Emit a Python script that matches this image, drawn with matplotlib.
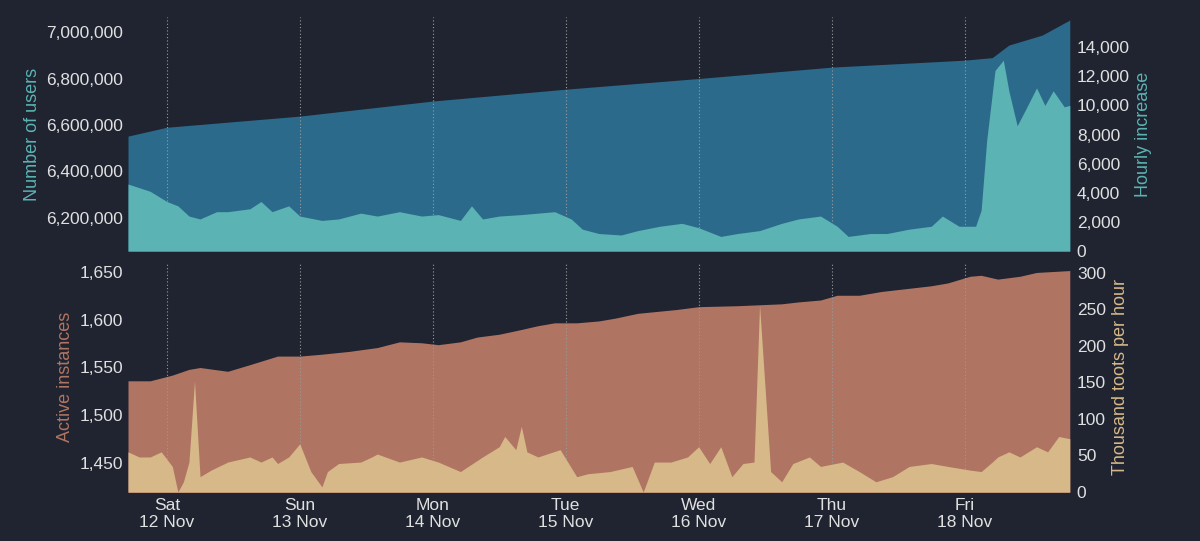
import numpy as np
import pandas as pd
import matplotlib.pyplot as plt
import matplotlib.dates as mdates
from matplotlib.ticker import FuncFormatter

start = pd.Timestamp("2022-11-11 17:00")

# users (total), hours since start
users_h = [0, 7, 31, 55, 79, 103, 127, 151, 156, 159, 165, 170]
users_v = [6552000, 6590000, 6638000, 6703000, 6754000, 6800000, 6849000, 6879000,
           6890000, 6944000, 6987000, 7052000]

# hourly increase
inc_h = [0, 4, 7, 9, 11, 13, 16, 18, 22, 24, 26, 29, 31, 35, 38, 42, 45, 49, 53, 56,
         60, 62, 64, 67, 71, 74, 77, 80, 82, 85, 89, 92, 96, 100, 103, 107, 110, 114,
         118, 121, 125, 128, 130, 134, 137, 141, 145, 147, 150, 153, 154, 155, 156.5,
         158, 159, 160.5, 162, 164, 165.5, 167, 169, 170]
inc_v = [4600, 4100, 3400, 3100, 2400, 2200, 2700, 2700, 2900, 3400, 2700, 3100, 2400,
         2100, 2200, 2600, 2400, 2700, 2400, 2500, 2100, 3100, 2200, 2400, 2500, 2600,
         2700, 2200, 1500, 1200, 1100, 1400, 1700, 1900, 1600, 1000, 1200, 1400, 1900,
         2200, 2400, 1700, 1000, 1200, 1200, 1500, 1700, 2400, 1700, 1700, 2800, 7600,
         12400, 13100, 11000, 8600, 9700, 11200, 10000, 11000, 9900, 10000]

# active instances
inst_h = [0, 4, 6, 8, 11, 13, 18, 22, 27, 31, 35, 40, 45, 49, 53, 56, 60, 63, 67, 71,
          74, 77, 81, 85, 88, 92, 99, 103, 110, 118, 121, 125, 128, 132, 136, 139, 145,
          148, 152, 154, 157, 161, 164, 170]
inst_v = [1536, 1536, 1539, 1542, 1548, 1550, 1546, 1553, 1562, 1562, 1564, 1567, 1571,
          1577, 1576, 1574, 1577, 1582, 1585, 1590, 1594, 1597, 1597, 1599, 1602, 1607,
          1611, 1614, 1615, 1617, 1619, 1621, 1626, 1626, 1630, 1632, 1636, 1639, 1646,
          1647, 1643, 1646, 1650, 1652]

# thousand toots per hour
toot_h = [0, 2, 4, 6, 8, 9, 10, 11, 12, 13, 15, 18, 22, 24, 26, 27, 29, 31, 33, 35, 36,
          38, 42, 44, 45, 49, 53, 56, 60, 64, 67, 68, 70, 71, 72, 74, 78, 81, 83, 87, 91,
          93, 95, 98, 101, 103, 105, 107, 109, 111, 113, 114, 116, 118, 120, 123, 125,
          129, 132, 135, 138, 141, 145, 148, 152, 154, 156, 157, 159, 161, 164, 166,
          168, 170]
toot_v = [55, 48, 48, 55, 35, 0, 14, 41, 152, 21, 30, 41, 48, 41, 48, 39, 48, 66, 28,
          7, 28, 39, 41, 48, 52, 41, 48, 41, 28, 48, 62, 76, 58, 90, 55, 48, 58, 21, 25,
          28, 35, 0, 41, 41, 48, 62, 39, 62, 21, 39, 41, 256, 28, 14, 39, 48, 35, 41, 28,
          14, 21, 35, 39, 35, 30, 28, 41, 48, 55, 48, 62, 55, 76, 73]

day_labels = ["Sat\n12 Nov", "Sun\n13 Nov", "Mon\n14 Nov", "Tue\n15 Nov",
              "Wed\n16 Nov", "Thu\n17 Nov", "Fri\n18 Nov"]

def to_t(h):
    return start + pd.to_timedelta(np.array(h, dtype=float), unit="h")

bg = "#1f2430"
c_users, c_inc = "#2b6a8b", "#5bb3b4"
c_inst, c_toot = "#b07462", "#d6b889"
tc = "#e0e0e0"

plt.rcParams["font.family"] = ["Liberation Sans", "DejaVu Sans"]
fig = plt.figure(figsize=(12, 5.41), dpi=100, facecolor=bg)
ax1 = fig.add_axes([128 / 1200, 1 - 251 / 541, 944 / 1200, 234 / 541])
ax2 = fig.add_axes([128 / 1200, 1 - 492 / 541, 944 / 1200, 230 / 541], sharex=ax1)

ax1.fill_between(to_t(users_h), users_v, 6000000, color=c_users, lw=0)
ax1.set_ylim(6057000, 7065000)
ax1r = ax1.twinx()
ax1r.fill_between(to_t(inc_h), inc_v, 0, color=c_inc, lw=0)
ax1r.set_ylim(0, 16070)
ax1r.set_yticks(range(0, 15000, 2000))

ax2.fill_between(to_t(inst_h), inst_v, 1400, color=c_inst, lw=0)
ax2.set_ylim(1419, 1661)
ax2.set_yticks([1450, 1500, 1550, 1600, 1650])
ax2r = ax2.twinx()
ax2r.fill_between(to_t(toot_h), toot_v, 0, color=c_toot, lw=0)
ax2r.set_ylim(0, 315)
ax2r.set_yticks(range(0, 301, 50))

fmt = FuncFormatter(lambda v, p: f"{v:,.0f}")
for a in (ax1, ax1r, ax2, ax2r):
    a.set_facecolor("none")
    for s in a.spines.values():
        s.set_visible(False)
    a.tick_params(colors=tc, labelsize=12.5, length=0)
    a.yaxis.set_major_formatter(fmt)
ax1.set_facecolor(bg)
ax2.set_facecolor(bg)

ax1.set_xlim(start, start + pd.Timedelta(hours=170.4))
ticks = [pd.Timestamp(f"2022-11-{d} 00:00") for d in range(12, 19)]
for a in (ax1, ax2):
    a.set_xticks(ticks)
    a.grid(axis="x", color="#9a9a9a", ls=(0, (1, 2)), lw=0.8)
    a.set_axisbelow(False)
ax1.tick_params(axis="x", labelbottom=False)
ax2.set_xticklabels(day_labels)
ax2.tick_params(axis="x", labelsize=12.5, pad=4)

ax1.set_ylabel("Number of users", color=c_inc, fontsize=13)
ax1r.set_ylabel("Hourly increase", color=c_inc, fontsize=13)
ax2.set_ylabel("Active instances", color=c_inst, fontsize=13)
ax2r.set_ylabel("Thousand toots per hour", color=c_toot, fontsize=13)

fig.savefig("out.png", facecolor=bg)
